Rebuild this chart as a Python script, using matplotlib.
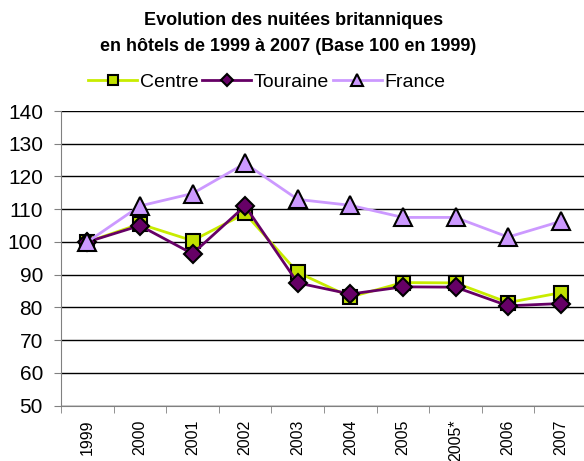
import matplotlib
matplotlib.use("Agg")
import matplotlib.pyplot as plt
import numpy as np

plt.rcParams['font.family'] = ['Liberation Sans', 'DejaVu Sans']

years = ["1999", "2000", "2001", "2002", "2003", "2004", "2005", "2005*", "2006", "2007"]
centre = [100, 105.5, 100.4, 108.7, 90.7, 83.2, 87.6, 87.5, 81.5, 84.5]
touraine = [100, 105, 96.4, 111, 87.5, 84.1, 86.3, 86.2, 80.5, 81.2]
france = [100, 111, 114.8, 124, 113, 111.2, 107.5, 107.5, 101.5, 106.3]
yticks = [50, 60, 70, 80, 90, 100, 110, 120, 130, 140]

fig = plt.figure(figsize=(5.84, 4.61), dpi=100)
ax = fig.add_axes([61/584, 55.3/461, 526/584, 294.7/461])

x = np.arange(len(years))
ax.plot(x, centre, color='#c8ec00', lw=2, marker='s', ms=10, mfc='#c0e000',
        mec='black', mew=1.5, label='Centre', zorder=3)
ax.plot(x, touraine, color='#660066', lw=2, marker='D', ms=9, mfc='#660066',
        mec='black', mew=1.5, label='Touraine', zorder=4)
ax.plot(x, france, color='#cc99ff', lw=2, marker='^', ms=13, mfc='#cc99ff',
        mec='black', mew=1.5, label='France', zorder=5)

ax.set_xlim(-0.5, len(years) - 0.5)
ax.set_ylim(50, 140)
ax.set_yticks(yticks)
ax.set_yticklabels([str(v) for v in yticks], fontsize=15)
ax.set_xticks(x)
ax.set_xticklabels(years, rotation=90, fontsize=11.5)
ax.set_xticks(np.arange(-0.5, len(years)), minor=True)
ax.tick_params(axis='x', which='major', length=0, pad=10)
ax.tick_params(axis='x', which='minor', length=5, color='#808080')
ax.tick_params(axis='y', length=5, color='#808080', pad=8)

ax.grid(axis='y', color='black', lw=1)
ax.set_axisbelow(True)
for s in ['top', 'right']:
    ax.spines[s].set_visible(False)
ax.spines['left'].set_color('#808080')
ax.spines['bottom'].set_color('#808080')

fig.text(0.502, 0.956, "Evolution des nuitées britanniques", ha='center', va='center',
         fontsize=13, fontweight='bold')
fig.text(0.493, 0.900, "en hôtels de 1999 à 2007 (Base 100 en 1999)", ha='center', va='center',
         fontsize=13, fontweight='bold')

fig.legend(loc='center', bbox_to_anchor=(0.457, 0.822), ncol=3, frameon=False,
           fontsize=14, handlelength=2.5, columnspacing=0.2, handletextpad=0.15,
           markerscale=0.65)

fig.savefig("out.png", dpi=100)
